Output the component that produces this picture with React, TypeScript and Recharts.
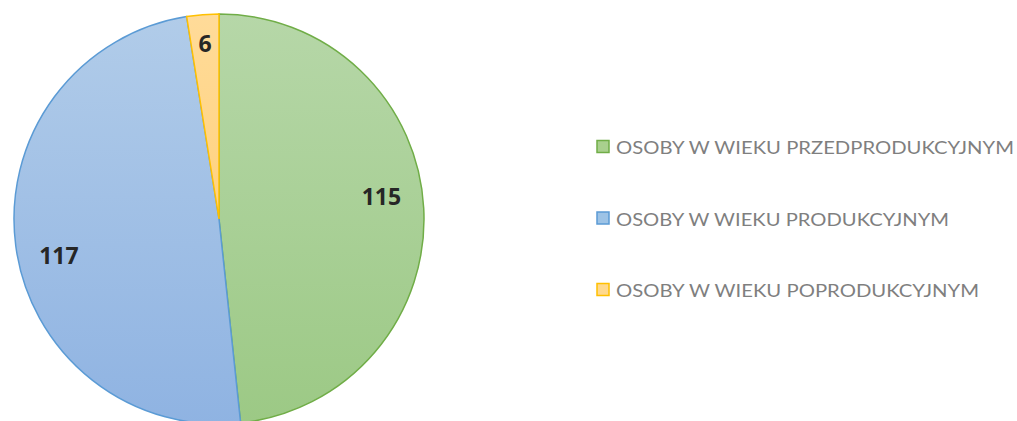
import React from 'react';
import { PieChart, Pie, Cell, Legend } from 'recharts';

const categories = [
  'OSOBY W WIEKU PRZEDPRODUKCYJNYM',
  'OSOBY W WIEKU PRODUKCYJNYM',
  'OSOBY W WIEKU POPRODUKCYJNYM',
];
const values = [115, 117, 6];

const gradTop = ['#b6d7a8', '#b1cce9', '#ffdb99'];
const gradBottom = ['#9cc985', '#8fb3e2', '#ffd27f'];
const strokes = ['#70ad47', '#5b9bd5', '#ffc000'];
const legendFill = ['#a9d08e', '#9dc3e6', '#ffd98e'];
const legendTextWidths = [398, 333, 363];

const data = categories.map((name, i) => ({ name, value: values[i] }));

const RAD = Math.PI / 180;

const renderLabel = (props: any) => {
  const { cx, cy, midAngle, outerRadius, value, percent } = props;
  const big = percent > 0.1;
  const r = outerRadius * (big ? 0.8 : 0.86);
  const a = midAngle + (big ? 5 : 0);
  const x = cx + r * Math.cos(-a * RAD);
  const y = cy + r * Math.sin(-a * RAD);
  return (
    <text
      x={x}
      y={y}
      textAnchor="middle"
      dominantBaseline="central"
      fill="#262626"
      fontSize={23}
      fontWeight={700}
      fontFamily="'Open Sans', 'DejaVu Sans', sans-serif"
    >
      {value}
    </text>
  );
};

const renderLegend = () => (
  <svg width={420} height={180} style={{ display: 'block' }}>
    {categories.map((c, i) => {
      const yc = 17 + i * 71.5;
      return (
        <g key={c}>
          <rect
            x={1}
            y={yc - 6.5}
            width={12}
            height={12}
            fill={legendFill[i]}
            stroke={strokes[i]}
            strokeWidth={1.5}
          />
          <text
            x={20}
            y={yc + 7}
            fontSize={18}
            fill="#7f7f7f"
            fontFamily="Lato, 'Open Sans', sans-serif"
            textLength={legendTextWidths[i]}
            lengthAdjust="spacingAndGlyphs"
          >
            {c}
          </text>
        </g>
      );
    })}
  </svg>
);

export default function App() {
  return (
    <div style={{ position: 'absolute', left: 0, top: 0, background: '#fff' }}>
      <PieChart width={1017} height={421}>
        <defs>
          {gradTop.map((t, i) => (
            <linearGradient key={i} id={`g${i}`} x1="0" y1="0" x2="0" y2="1">
              <stop offset="0%" stopColor={t} />
              <stop offset="100%" stopColor={gradBottom[i]} />
            </linearGradient>
          ))}
        </defs>
        <Pie
          data={data}
          dataKey="value"
          nameKey="name"
          cx={214}
          cy={214}
          outerRadius={205}
          startAngle={90}
          endAngle={-270}
          label={renderLabel}
          labelLine={false}
          isAnimationActive={false}
        >
          {data.map((d, i) => (
            <Cell key={d.name} fill={`url(#g${i})`} stroke={strokes[i]} strokeWidth={1.5} />
          ))}
        </Pie>
        <Legend
          content={renderLegend}
          wrapperStyle={{ left: 596, top: 130, width: 420 }}
        />
      </PieChart>
    </div>
  );
}
